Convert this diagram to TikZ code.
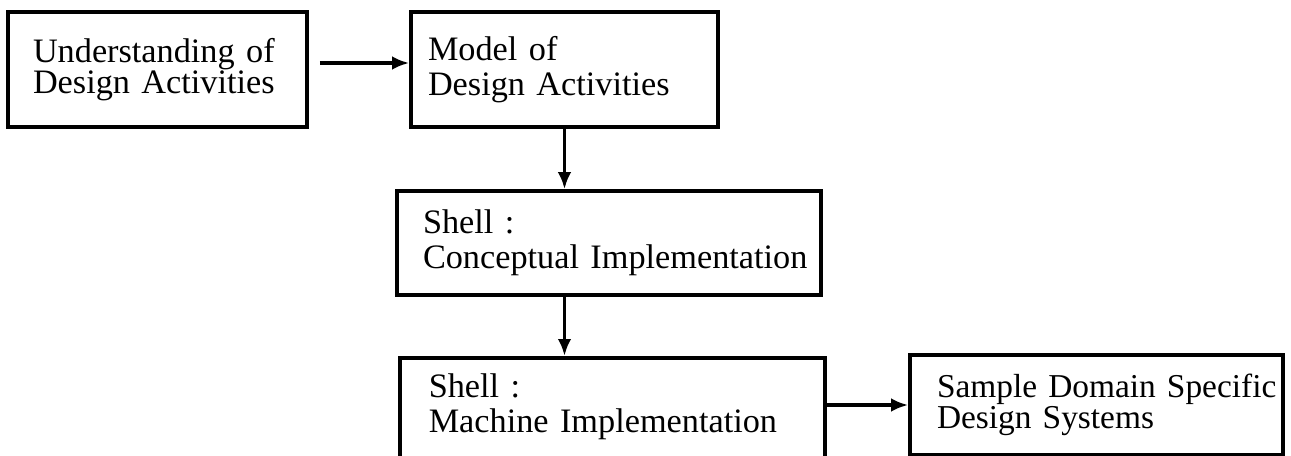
\documentclass[tikz,border=0pt]{standalone}
\usepackage{fontspec}
\setmainfont{Liberation Serif}
\usetikzlibrary{arrows.meta}

\begin{document}
\begin{tikzpicture}

\tikzstyle{box}=[rectangle, draw, line width=2pt, align=left, inner ysep=0pt, font=\fontsize{19.5}{18}\selectfont]
\tikzstyle{shellbox}=[box, font=\fontsize{19.5}{20}\selectfont]
\tikzstyle{arrow}=[-{Latex[length=0.34cm,width=0.27cm]}, line width=2pt]

\clip (0,0) rectangle (25.82,-9.12);

\node (U) [box, text width=4.98cm, inner xsep=0.5cm, minimum height=2.3cm] at (3.15,-1.39) {Understanding of\\Design Activities};

\node (M) [box, text width=5.46cm, inner xsep=0.34cm, minimum height=2.3cm, font=\fontsize{19.5}{19.5}\selectfont] at (11.29,-1.39) {Model of\\Design Activities};

\node (C) [shellbox, text width=7.44cm, inner xsep=0.52cm, minimum height=2.08cm] at (12.18,-4.86) {Shell :\\\mbox{Conceptual Implementation}};

% lower edge runs off the page
\node (I) [shellbox, anchor=north west, text width=7.34cm, inner xsep=0.58cm, inner ysep=0.31cm, text depth=1.2cm] at (7.96,-7.12) {Shell :\\Machine Implementation};

\node (S) [box, text width=6.38cm, inner xsep=0.54cm, minimum height=2cm, font=\fontsize{19}{16.5}\selectfont] at (21.93,-8.1) {\mbox{Sample Domain Specific}\\Design Systems};

\draw [arrow, shorten <=0.22cm] ([yshift=0.13cm]U.east) -- ([yshift=0.13cm]M.west);
\draw [arrow] (M.south) -- (M.south |- C.north);
\draw [arrow] (M.south |- C.south) -- (M.south |- I.north);
\draw [arrow] (I.east |- S.west) -- (S.west);

\end{tikzpicture}
\end{document}
